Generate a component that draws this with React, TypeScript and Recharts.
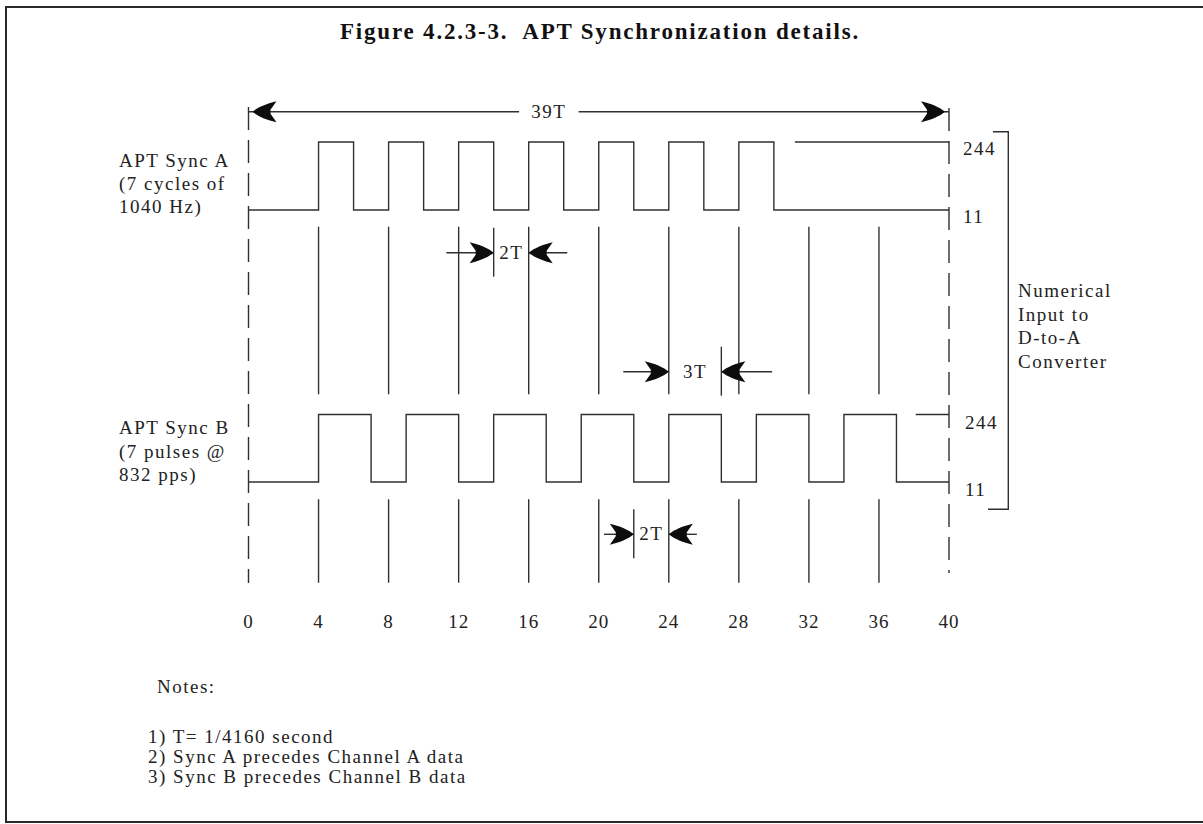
import React from 'react';
import { LineChart, Line, XAxis, YAxis, ReferenceLine, ReferenceDot } from 'recharts';

// time axis in units of T (T = 1/4160 s), levels are D-to-A input counts
const X_TICKS = [0, 4, 8, 12, 16, 20, 24, 28, 32, 36, 40];
const LEVELS = [11, 244];

// Sync A: 7 cycles of 1040 Hz (2T high / 2T low)
const SYNC_A_EDGES = [0, 4, 6, 8, 10, 12, 14, 16, 18, 20, 22, 24, 26, 28, 30, 40];
const SYNC_A_VALUES = [11, 244, 11, 244, 11, 244, 11, 244, 11, 244, 11, 244, 11, 244, 11, 11];

// Sync B: 7 pulses @ 832 pps (3T high / 2T low)
const SYNC_B_EDGES = [0, 4, 7, 9, 12, 14, 17, 19, 22, 24, 27, 29, 32, 34, 37, 40];
const SYNC_B_VALUES = [11, 244, 11, 244, 11, 244, 11, 244, 11, 244, 11, 244, 11, 244, 11, 11];

// where the short "244" stub starts at the right end of each trace
const SYNC_A_STUB_FROM = 31.2;
const SYNC_B_STUB_FROM = 38.1;

// overall span and the three inner dimensions
const TOTAL_SPAN = { from: 0, to: 40, label: '39T', labelAt: 17.15 };
const DIMS = [
  { from: 14, to: 16, label: '2T', leadFrom: 11.3, leadTo: 18.2 },
  { from: 24, to: 27, label: '3T', leadFrom: 21.4, leadTo: 29.9 },
  { from: 22, to: 24, label: '2T', leadFrom: 20.3, leadTo: 25.6 },
];

const LEFT_A = ['APT Sync A', '(7 cycles of', '1040 Hz)'];
const LEFT_B = ['APT Sync B', '(7 pulses @', '832 pps)'];
const RIGHT_NOTE = ['Numerical', 'Input to', 'D-to-A', 'Converter'];
const NOTES = ['1) T= 1/4160 second', '2) Sync A precedes Channel A data', '3) Sync B precedes Channel B data'];

const syncA = SYNC_A_EDGES.map((t, i) => ({ t, v: SYNC_A_VALUES[i] }));
const syncB = SYNC_B_EDGES.map((t, i) => ({ t, v: SYNC_B_VALUES[i] }));

// ---- layout (page pixels) ----
const W = 1203;
const H = 824;
const PLOT_TOP = 100;
const PLOT_BOTTOM = 600;
const FONT = '"Liberation Serif", "Times New Roman", serif';
const INK = '#303030';
const ROW = {
  span: 111.7,
  aHigh: 142, aLow: 210,
  bHigh: 414.5, bLow: 482,
  upper: [226.7, 394.3],
  lower: [499.3, 582.7],
  dashLeft: [107, 583],
  dashRight: [108, 573],
};
const DIM_ROWS = [252.7, 371.7, 534.3];
const DIM_BANDS = [ROW.upper, ROW.upper, ROW.lower];

// y domain that puts level 11 at lowPx and 244 at highPx
const laneDomain = (lowPx: number, highPx: number): [number, number] => {
  const [lo, hi] = LEVELS;
  const k = (lowPx - highPx) / (hi - lo);
  const d0 = lo - (PLOT_BOTTOM - lowPx) / k;
  return [d0, d0 + (PLOT_BOTTOM - PLOT_TOP) / k];
};

const Arrowhead = ({ cx, cy, dir, gap = 0 }: { cx: number; cy: number; dir: number; gap?: number }) => (
  <path
    transform={`translate(${cx - dir * gap},${cy}) scale(${dir},1)`}
    d="M0,0 C-6,-5 -14,-8 -24,-10.5 L-18,-2 L-18,2 L-24,10.5 C-14,8 -6,5 0,0 Z"
    fill="#0d0d0d"
  />
);

const textStyle = { fontFamily: FONT, fontSize: 19, fill: '#222', letterSpacing: '1.5px' };

const arrow = (key: string, x: number, y: number, dir: number, gap = 0) => (
  <ReferenceDot
    key={key}
    yAxisId="frame"
    x={x}
    y={y}
    r={10}
    shape={(p: any) => <Arrowhead cx={p.cx} cy={p.cy} dir={dir} gap={gap} />}
  />
);

const label = (key: string, x: number, y: number, text: string, axis = 'frame', dx = 0, dy = 6, anchor = 'middle') => (
  <ReferenceDot
    key={key}
    yAxisId={axis}
    x={x}
    y={y}
    r={1}
    shape={(p: any) => (
      <text x={p.cx + dx} y={p.cy + dy} textAnchor={anchor} style={textStyle}>
        {text}
      </text>
    )}
  />
);

const seg = (key: string, x1: number, y1: number, x2: number, y2: number, axis = 'frame', dash?: string) => (
  <ReferenceLine
    key={key}
    yAxisId={axis}
    segment={[{ x: x1, y: y1 }, { x: x2, y: y2 }]}
    stroke={INK}
    strokeWidth={1.4}
    strokeDasharray={dash}
  />
);

export default function App() {
  const markers = X_TICKS.filter((t) => t > 0 && t < 40);
  const gapHalf = 1.7;

  return (
    <div style={{ position: 'absolute', left: 0, top: 0, width: W, height: H, background: '#fff', overflow: 'hidden' }}>
      <div style={{ position: 'absolute', left: 0, top: 0 }}>
        <LineChart width={W} height={H} margin={{ top: PLOT_TOP, right: 254, bottom: H - PLOT_BOTTOM - 40, left: 248.5 }}>
          <XAxis
            type="number"
            dataKey="t"
            domain={[0, 40]}
            ticks={X_TICKS}
            interval={0}
            axisLine={false}
            tickLine={false}
            tickSize={0}
            tickMargin={14.5}
            height={40}
            allowDataOverflow
            tick={{ fontFamily: FONT, fontSize: 19, fill: '#222', letterSpacing: '1px' }}
          />
          <YAxis yAxisId="frame" hide type="number" domain={[PLOT_TOP, PLOT_BOTTOM]} reversed allowDataOverflow />
          <YAxis yAxisId="a" hide type="number" domain={laneDomain(ROW.aLow, ROW.aHigh)} allowDataOverflow />
          <YAxis yAxisId="b" hide type="number" domain={laneDomain(ROW.bLow, ROW.bHigh)} allowDataOverflow />

          {/* boundary dashes */}
          {seg('dl', 0, ROW.dashLeft[0], 0, ROW.dashLeft[1], 'frame', '23 10')}
          {seg('dr', 40, ROW.dashRight[0], 40, ROW.dashRight[1], 'frame', '23 10')}

          {/* 39T span */}
          {seg('s1', TOTAL_SPAN.from, ROW.span, TOTAL_SPAN.labelAt - gapHalf, ROW.span)}
          {seg('s2', TOTAL_SPAN.labelAt + gapHalf, ROW.span, TOTAL_SPAN.to, ROW.span)}
          {arrow('sa1', TOTAL_SPAN.from, ROW.span, -1, 4)}
          {arrow('sa2', TOTAL_SPAN.to, ROW.span, 1, 4)}
          {label('sl', TOTAL_SPAN.labelAt, ROW.span, TOTAL_SPAN.label)}

          {/* marker lines */}
          {markers.map((t) => seg(`mu${t}`, t, ROW.upper[0], t, ROW.upper[1]))}
          {markers.map((t) => seg(`ml${t}`, t, ROW.lower[0], t, ROW.lower[1]))}

          {/* inner dimensions */}
          {DIMS.map((d, i) => {
            const y = DIM_ROWS[i];
            const band = DIM_BANDS[i];
            const ext = [d.from, d.to]
              .filter((x) => !markers.includes(x))
              .map((x) => seg(`de${i}${x}`, x, Math.max(band[0], y - 25), x, Math.min(band[1] + 2, y + 24)));
            return [
              ...ext,
              seg(`dl${i}`, d.leadFrom, y, d.from, y),
              seg(`dr${i}`, d.to, y, d.leadTo, y),
              arrow(`da${i}`, d.from, y, 1),
              arrow(`db${i}`, d.to, y, -1),
              label(`dt${i}`, (d.from + d.to) / 2, y, d.label),
            ];
          })}

          {/* level stubs and level labels */}
          {seg('stubA', SYNC_A_STUB_FROM, LEVELS[1], 40, LEVELS[1], 'a')}
          {seg('stubB', SYNC_B_STUB_FROM, LEVELS[1], 40, LEVELS[1], 'b')}
          {LEVELS.map((lv) => label(`la${lv}`, 40, lv, String(lv), 'a', 14, 13, 'start'))}
          {LEVELS.map((lv) => label(`lb${lv}`, 40, lv, String(lv), 'b', 16, 14, 'start'))}

          <Line
            yAxisId="a"
            data={syncA}
            dataKey="v"
            type="stepAfter"
            stroke={INK}
            strokeWidth={1.4}
            dot={false}
            activeDot={false}
            isAnimationActive={false}
          />
          <Line
            yAxisId="b"
            data={syncB}
            dataKey="v"
            type="stepAfter"
            stroke={INK}
            strokeWidth={1.4}
            dot={false}
            activeDot={false}
            isAnimationActive={false}
          />
        </LineChart>
      </div>

      <svg width={W} height={H} style={{ position: 'absolute', left: 0, top: 0, pointerEvents: 'none' }}>
        {/* frame (no right edge in the source) */}
        <polyline points={`${W + 5},7 6,7 6,822 ${W + 5},822`} fill="none" stroke="#2a2a2a" strokeWidth={2} />
        {/* bracket for numerical input */}
        <polyline points="993,131.7 1008.3,131.7 1008.3,509.3 988,509.3" fill="none" stroke={INK} strokeWidth={1.4} />

        <text
          x={600}
          y={39}
          textAnchor="middle"
          style={{ fontFamily: FONT, fontSize: 23, fontWeight: 700, fill: '#111', letterSpacing: '1.8px', whiteSpace: 'pre' }}
        >
          {'Figure 4.2.3-3.  APT Synchronization details.'}
        </text>

        {LEFT_A.map((s, i) => (
          <text key={`a${i}`} x={119} y={167 + i * 23} style={textStyle}>{s}</text>
        ))}
        {LEFT_B.map((s, i) => (
          <text key={`b${i}`} x={119} y={434 + i * 23.5} style={textStyle}>{s}</text>
        ))}
        {RIGHT_NOTE.map((s, i) => (
          <text key={`r${i}`} x={1018} y={297 + i * 23.5} style={textStyle}>{s}</text>
        ))}
        <text x={157} y={693} style={textStyle}>Notes:</text>
        {NOTES.map((s, i) => (
          <text key={`n${i}`} x={148} y={743 + i * 20} style={textStyle}>{s}</text>
        ))}
      </svg>
    </div>
  );
}
